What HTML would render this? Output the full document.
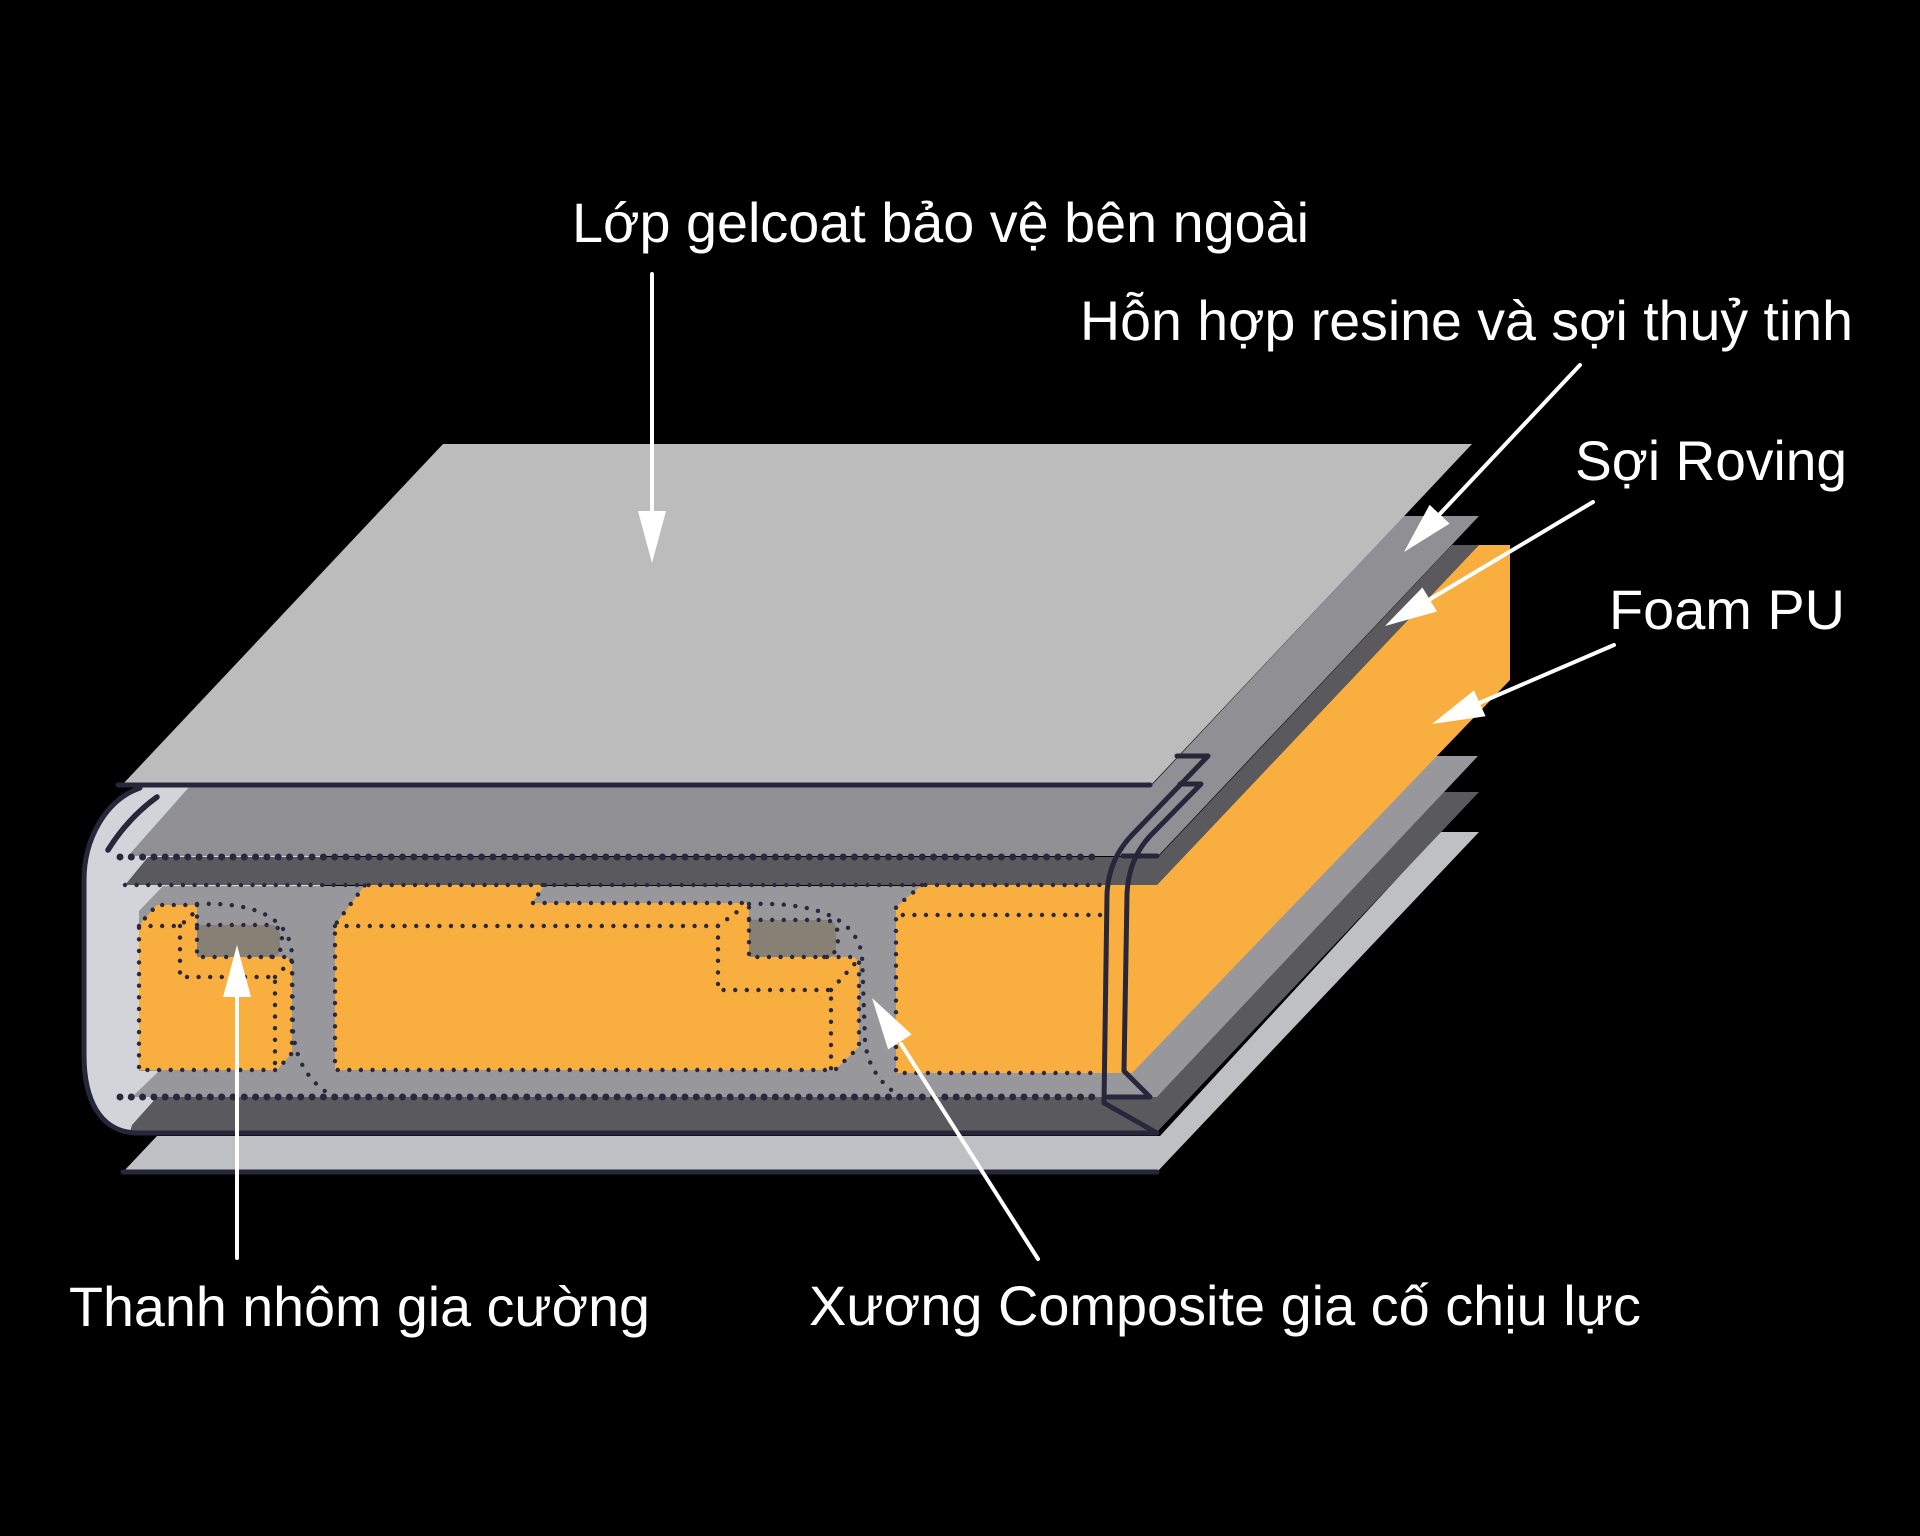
<!DOCTYPE html>
<html>
<head>
<meta charset="utf-8">
<style>
  html, body { margin: 0; padding: 0; background: #000; }
  body { width: 1920px; height: 1536px; overflow: hidden; }
  svg { display: block; }
  text { font-family: "Liberation Sans", "DejaVu Sans", sans-serif; fill: #ffffff; }
</style>
</head>
<body>
<svg width="1920" height="1536" viewBox="0 0 1920 1536" xmlns="http://www.w3.org/2000/svg">
  <rect width="1920" height="1536" fill="#000"/>

  <!-- Lavender left cap -->
  <path d="M140,787 L320,787 L320,1133 L135,1133 C100,1131 84,1100 84,1055 L84,880 C84,840 105,800 140,787 Z" fill="#d3d3da"/>

  <!-- bottom light plate -->
  <polygon points="157,1136 1160,1136 1440,832 1479,832 1157,1172 123,1172" fill="#bfc0c4"/>

  <!-- lower dark band -->
  <polygon points="157,1097 1157,1097 1444,792 1479,792 1157,1132 130,1132 132,1125" fill="#5a5a5e"/>

  <!-- core (medium gray) -->
  <polygon points="163,886 1157,886 1436,756 1478,756 1157,1097 132,1097 159,1071 139,1071 139,911" fill="#98989c"/>

  <!-- upper dark band (roving) -->
  <polygon points="148,857 1158,857 1452,545 1479,545 1157,885 125,885" fill="#5a5a5e"/>

  <!-- upper medium band (resin + glass) -->
  <polygon points="190,786 1151,786 1404,516 1479,516 1158,856 128,856" fill="#8f8f94"/>

  <!-- top gelcoat plate -->
  <polygon points="443,444 1472,444 1151,785 122,785" fill="#bcbcbc"/>

  <!-- Orange block 3 + side face -->
  <polygon points="922,885 1157,885 1479,545 1510,545 1510,680 1132,1073 896,1073 896,907" fill="#f9ae40"/>

  <!-- Orange block 1 -->
  <path d="M157,905 L197,905 L197,957 L287,957 L292,962 L292,1053 L277,1070 L139,1070 L139,925 Z" fill="#f9ae40"/>
  <!-- Aluminum bar 1 -->
  <path d="M197,925 H270 Q280,925 280,935 V948 Q280,957 270,957 H197 Z" fill="#878175"/>

  <!-- Orange block 2 -->
  <path d="M365,885 L545,885 L532,903 L749,903 L749,957 L854,957 L859,962 L859,1047 L835,1070 L335,1070 L335,925 Z" fill="#f9ae40"/>
  <!-- Aluminum bar 2 -->
  <path d="M749,920 H826 Q836,920 836,930 V948 Q836,957 826,957 H749 Z" fill="#878175"/>

  <!-- Small dotted outlines -->
  <g fill="none" stroke="#2a283d" stroke-width="4.4" stroke-linecap="round" stroke-dasharray="0 11.6">
    <path d="M125,885 H1100"/>
    <!-- block 1 outline -->
    <path d="M197,905 H157 L139,925 V1070 H277 L292,1053 V962"/>
    <path d="M197,905 V957 H287"/>
    <!-- block 1 internal -->
    <path d="M139,926 H180 L197,910"/>
    <path d="M180,926 V977 H275 V1070"/>
    <path d="M275,977 L292,960"/>
    <!-- bar 1 outline -->
    <path d="M197,925 H268 Q282,925 282,940 Q282,957 268,957"/>
    <!-- curve 1 -->
    <path d="M197,904 C250,902 290,915 292,955 L293,1030 C295,1060 310,1085 335,1097"/>

    <!-- block 2 outline -->
    <path d="M545,885 L532,903 H749 V957 H854 L859,962 V1047 L835,1070 H335 V925 L365,885"/>
    <!-- block 2 internal -->
    <path d="M335,926 H718 L745,906"/>
    <path d="M718,926 V990 H831 V1070"/>
    <path d="M831,990 L859,959"/>
    <!-- bar 2 outline -->
    <path d="M749,920 H824 Q838,920 838,937 Q838,957 824,957"/>
    <!-- curve 2 -->
    <path d="M749,904 C810,902 855,915 862,955 L865,1040 C867,1065 880,1085 902,1097"/>

    <!-- block 3 -->
    <path d="M1100,915 H896"/>
    <path d="M922,885 L896,907 V1073 H1100"/>
  </g>

  <!-- Big dotted lines -->
  <g fill="none" stroke="#2a283d" stroke-width="7" stroke-linecap="round" stroke-dasharray="0 11.3">
    <path d="M120,857 H1103"/>
    <path d="M120,1097 H1100"/>
  </g>

  <!-- Solid outlines -->
  <g fill="none" stroke="#28263b" stroke-width="5" stroke-linecap="round" stroke-linejoin="round">
    <path d="M118,785 H1150"/>
    <path d="M140,788 C105,800 84,840 84,880 L84,1055 C84,1100 100,1131 135,1133 L1157,1133"/>
    <path d="M123,1172 H1157"/>
    <path d="M157,797 Q128,818 108,850" stroke-width="5.5"/>
    <path d="M1123,856 H1157"/>
    <path d="M1177,756 H1208 L1132,835 Q1108,860 1107,895 L1104,1103 L1157,1133"/>
    <path d="M1180,784 H1201 L1150,836 Q1128,860 1127,895 L1124,1071 L1150,1097 H1108"/>
  </g>

  <!-- Arrows -->
  <g stroke="#ffffff" stroke-width="4" stroke-linecap="round" fill="none">
    <line x1="652" y1="274" x2="652" y2="515"/>
    <line x1="1580" y1="365" x2="1437" y2="517"/>
    <line x1="1593" y1="502" x2="1427" y2="601"/>
    <line x1="1614" y1="645" x2="1477" y2="704"/>
    <line x1="237" y1="1258" x2="237" y2="993"/>
    <line x1="1038" y1="1259" x2="901" y2="1044"/>
  </g>
  <g fill="#ffffff">
    <polygon points="638,511 666,511 652,563"/>
    <polygon points="1449.6,523.6 1429.6,504.8 1404,552"/>
    <polygon points="1437,611.5 1422.4,587.5 1385,626"/>
    <polygon points="1485.6,716.2 1474,690.4 1432,724"/>
    <polygon points="223,997 251,997 237,945"/>
    <polygon points="911.7,1034.4 888.1,1049.4 872,998"/>
  </g>

  <!-- Labels -->
  <text x="572" y="242" font-size="56" textLength="737" lengthAdjust="spacingAndGlyphs">Lớp gelcoat bảo vệ bên ngoài</text>
  <text x="1080" y="340" font-size="56" textLength="773" lengthAdjust="spacingAndGlyphs">Hỗn hợp resine và sợi thuỷ tinh</text>
  <text x="1575" y="480" font-size="56" textLength="272" lengthAdjust="spacingAndGlyphs">Sợi Roving</text>
  <text x="1609" y="629" font-size="56" textLength="236" lengthAdjust="spacingAndGlyphs">Foam PU</text>
  <text x="69" y="1326" font-size="56" textLength="581" lengthAdjust="spacingAndGlyphs">Thanh nhôm gia cường</text>
  <text x="809" y="1325" font-size="56" textLength="832" lengthAdjust="spacingAndGlyphs">Xương Composite gia cố chịu lực</text>
</svg>
</body>
</html>
